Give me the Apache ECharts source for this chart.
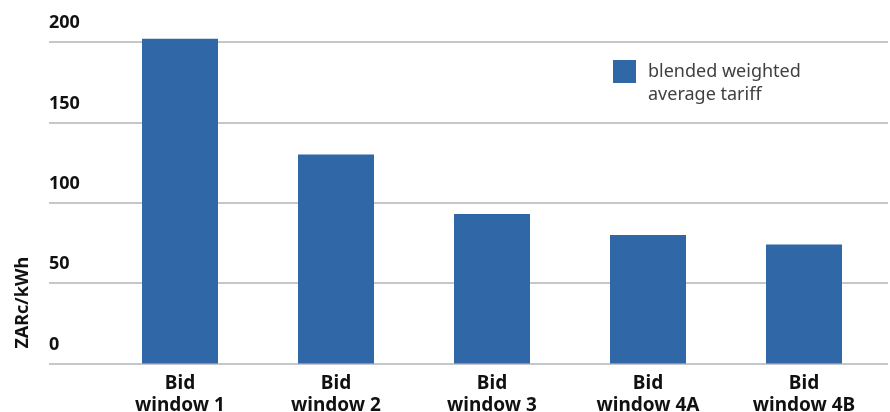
<!DOCTYPE html>
<html>
<head>
<meta charset="utf-8">
<script src="https://cdn.jsdelivr.net/npm/echarts@6/dist/echarts.min.js"></script>
<style>
  html, body { margin: 0; padding: 0; background: #ffffff; }
  #chart { width: 890px; height: 412px; }
</style>
</head>
<body>
<div id="chart"></div>
<script>
// Bid windows and their blended weighted average tariff (ZARc/kWh)
const categories = ['Bid\nwindow 1', 'Bid\nwindow 2', 'Bid\nwindow 3', 'Bid\nwindow 4A', 'Bid\nwindow 4B'];
const tariff = [202, 130, 93, 80, 74];
const seriesName = 'blended weighted\naverage tariff';
const yTicks = [0, 50, 100, 150, 200];

const FONT = '"Noto Sans", "Open Sans", sans-serif';
const yMin = yTicks[0], yMax = yTicks[yTicks.length - 1], yStep = yTicks[1] - yTicks[0];

// Legend swatch: a 23px square sitting beside the first text line; the
// near-zero speck at the far corner sets the icon box to 30 x 46.
const LEGEND_ICON = 'path://M0,0H23V23H0Z M29.99,45.99H30V46H29.99Z';

const chart = echarts.init(document.getElementById('chart'));
chart.setOption({
  animation: false,
  backgroundColor: '#ffffff',
  grid: [
    // wide grid carrying the horizontal rules and tick labels
    { left: 49, right: 2, top: 42, bottom: 48.5, outerBoundsMode: 'none', containLabel: false },
    // narrower grid holding the bars
    { left: 102, right: 8, top: 42, bottom: 48.5, outerBoundsMode: 'none', containLabel: false }
  ],
  legend: {
    data: [seriesName],
    left: 613,
    top: 60,
    padding: 0,
    itemWidth: 30,
    itemHeight: 46,
    icon: LEGEND_ICON,
    textStyle: {
      fontFamily: FONT,
      fontSize: 18,
      color: '#404040',
      lineHeight: 23
    }
  },
  xAxis: [
    { gridIndex: 0, type: 'value', min: 0, max: 1, show: false },
    {
      gridIndex: 1,
      type: 'category',
      data: categories,
      axisLine: { show: false },
      axisTick: { show: false },
      axisLabel: {
        interval: 0,
        margin: 9,
        fontFamily: FONT,
        fontWeight: 'bold',
        fontSize: 19,
        lineHeight: 22,
        color: '#111111'
      }
    }
  ],
  yAxis: [
    {
      gridIndex: 0,
      type: 'value',
      min: yMin,
      max: yMax,
      interval: yStep,
      axisLine: { show: false },
      axisTick: { show: false },
      splitLine: { lineStyle: { color: '#c6c6cc', width: 2 } },
      axisLabel: {
        inside: true,
        margin: 0,
        verticalAlign: 'bottom',
        padding: [0, 0, 10, 0],
        fontFamily: FONT,
        fontWeight: 'bold',
        fontSize: 18,
        color: '#111111'
      },
      name: 'ZARc/kWh',
      nameLocation: 'middle',
      nameRotate: 90,
      nameGap: 17,
      nameTextStyle: {
        fontFamily: FONT,
        fontWeight: 'bold',
        fontSize: 18,
        color: '#111111',
        padding: [0, 0, 0, -200]
      }
    },
    {
      gridIndex: 1,
      type: 'value',
      min: yMin,
      max: yMax,
      interval: yStep,
      show: false,
      splitLine: { show: false }
    }
  ],
  series: [
    {
      name: seriesName,
      type: 'bar',
      xAxisIndex: 1,
      yAxisIndex: 1,
      data: tariff,
      barWidth: 76,
      clip: false,
      itemStyle: { color: '#3067a6' }
    }
  ]
});
</script>
</body>
</html>
